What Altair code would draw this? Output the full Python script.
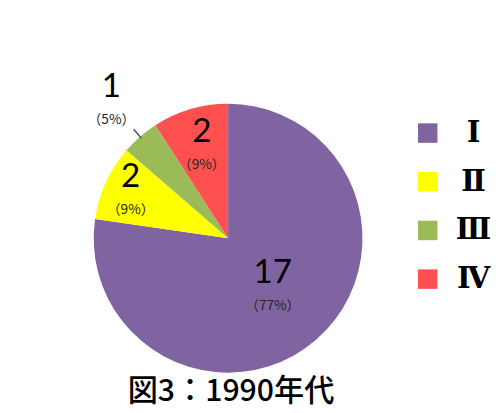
import math
import altair as alt
import pandas as pd

categories = ["Ⅰ", "Ⅱ", "Ⅲ", "Ⅳ"]
counts = [17, 2, 1, 2]
pct_labels = ["（77%）", "（9%）", "（5%）", "（9%）"]
colors = ["#8064A2", "#FFFF00", "#9BBB59", "#FF5050"]

df = pd.DataFrame({
    "cat": categories,
    "count": counts,
    "pct": pct_labels,
    "idx": list(range(len(categories))),
})

base = alt.Chart(df).transform_joinaggregate(
    total="sum(count)"
).transform_window(
    cum="sum(count)", sort=[alt.SortField("idx")], frame=[None, 0]
).transform_calculate(
    start="(datum.cum - datum.count) / datum.total",
    end="datum.cum / datum.total",
    mid="(datum.cum - datum.count / 2) / datum.total",
    lr="datum.cat == 'Ⅰ' ? 70 : datum.cat == 'Ⅱ' ? 110 : datum.cat == 'Ⅲ' ? 183 : 96",
)

theta_scale = alt.Scale(domain=[0, 1], range=[0, 2 * math.pi])
cx = alt.value(226)
cy = alt.value(231)

arcs = base.mark_arc(radius=138, stroke=None).encode(
    x=cx, y=cy,
    theta=alt.Theta("start:Q", scale=theta_scale),
    theta2="end:Q",
    color=alt.Color(
        "cat:N",
        scale=alt.Scale(domain=categories, range=colors),
        legend=alt.Legend(
            orient="none", legendX=416, legendY=108, title=None,
            symbolType="square", symbolSize=400, symbolStrokeWidth=0,
            labelFontSize=30, labelFont="DejaVu Serif", labelFontWeight="bold",
            labelColor="black", labelOffset=32, labelAlign="center",
            rowPadding=20, padding=0,
        ),
    ),
)

leader = base.transform_filter("datum.cat == 'Ⅲ'").transform_calculate(
    l1="datum.mid - 0.0009", l2="datum.mid + 0.0009"
).mark_arc(radius=148, radius2=136, color="#595959").encode(
    x=cx, y=cy,
    theta=alt.Theta("l1:Q", scale=theta_scale),
    theta2="l2:Q",
)

nums = base.mark_text(font="Lato", fontSize=34, color="black", dy=-17, baseline="middle").encode(
    x=cx, y=cy,
    theta=alt.Theta("mid:Q", scale=theta_scale),
    radius=alt.Radius("lr:Q", scale=None),
    text="count:Q",
)

pcts = base.mark_text(font="Noto Sans CJK JP", fontSize=14, color="#262626", dy=17, baseline="middle").encode(
    x=cx, y=cy,
    theta=alt.Theta("mid:Q", scale=theta_scale),
    radius=alt.Radius("lr:Q", scale=None),
    text="pct:N",
)

chart = alt.layer(arcs, leader, nums, pcts).properties(
    width=484, height=370, padding=0,
    title=alt.Title(
        "図3：1990年代", orient="bottom", anchor="middle", frame="group",
        fontSize=31, font="Noto Sans CJK JP", fontWeight=500, color="black",
        offset=19, dx=-13, baseline="middle",
    ),
).configure_view(stroke=None)

chart.save("out.html", embed_options={"renderer": "svg", "actions": False})
